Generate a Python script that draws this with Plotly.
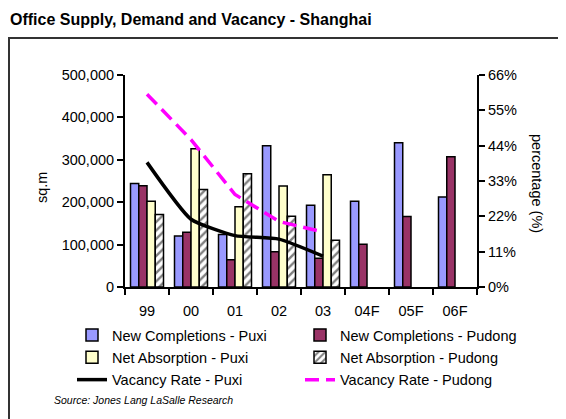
import plotly.graph_objects as go

years = ["99", "00", "01", "02", "03", "04F", "05F", "06F"]
nc_puxi = [244000, 120000, 124000, 333000, 193000, 202000, 340000, 212000]
nc_pudong = [239000, 129000, 64000, 83000, 68000, 101000, 166000, 307000]
na_puxi = [202000, 326000, 189000, 238000, 265000, None, None, None]
na_pudong = [171000, 230000, 267000, 167000, 110000, None, None, None]
vac_years = ["99", "00", "01", "02", "03"]
vac_puxi = [0.388, 0.211, 0.160, 0.149, 0.096]
vac_pudong = [0.600, 0.459, 0.288, 0.204, 0.171]

FONT = "Liberation Sans, Arial, sans-serif"

# page body has an 8px margin; work in window pixels and shift
OFF = 8
W, H = 566 - OFF, 419 - OFF
L, R, T, B = 125 - OFF, 477 - OFF, 75 - OFF, 287 - OFF
pw, ph = R - L, B - T
def px(x):
    return (x - OFF - L) / pw
def py(y):
    return (B - (y - OFF)) / ph

fig = go.Figure()
bar_line = dict(color="black", width=1.5)
fig.add_bar(x=years, y=nc_puxi, name="New Completions - Puxi",
            marker=dict(color="#9999FF", line=bar_line), legend="legend", legendgroup="a")
fig.add_bar(x=years, y=nc_pudong, name="New Completions - Pudong",
            marker=dict(color="#993366", line=bar_line), legend="legend2", legendgroup="d")
fig.add_bar(x=years, y=na_puxi, name="Net Absorption - Puxi",
            marker=dict(color="#FFFFCC", line=bar_line), legend="legend", legendgroup="b")
fig.add_bar(x=years, y=na_pudong, name="Net Absorption - Pudong",
            marker=dict(color="white", line=bar_line,
                        pattern=dict(shape="/", fgcolor="black", bgcolor="white",
                                     size=6, solidity=0.4)),
            legend="legend2", legendgroup="e")
fig.add_scatter(x=vac_years, y=vac_puxi, name="Vacancy Rate - Puxi", yaxis="y2",
                mode="lines", line=dict(color="black", width=3.5, shape="spline", smoothing=0.5),
                legend="legend", legendgroup="c")
fig.add_scatter(x=vac_years, y=vac_pudong, name="Vacancy Rate - Pudong", yaxis="y2",
                mode="lines", line=dict(color="#FF00FF", width=3.5, dash="14px,7px"),
                legend="legend2", legendgroup="f")

legend_common = dict(font=dict(family=FONT, size=14.5, color="black"),
                     bgcolor="rgba(0,0,0,0)", xanchor="left", yanchor="top",
                     tracegroupgap=0.5, orientation="v")

fig.update_layout(
    width=W, height=H,
    margin=dict(l=L, r=W - R, t=T, b=H - B, autoexpand=False),
    paper_bgcolor="white", plot_bgcolor="white",
    barmode="group", bargap=0.25, bargroupgap=0,
    font=dict(family=FONT, size=14.5, color="black"),
    title=dict(text="Office Supply, Demand and Vacancy - Shanghai",
               font=dict(family=FONT, size=16, color="black", weight="bold"),
               xref="container", yref="container", x=2 / W, y=1 - (19 - OFF) / H,
               xanchor="left", yanchor="middle", pad=dict(l=0, r=0, t=0, b=0)),
    xaxis=dict(type="category", showline=True, linecolor="black", linewidth=2,
               ticks="outside", tickson="boundaries", ticklen=6, tickcolor="black",
               tickwidth=2, showgrid=False, tickfont=dict(size=14.5), ticklabelstandoff=10),
    yaxis=dict(range=[0, 500000], dtick=100000, tickformat=",", showline=True,
               linecolor="black", linewidth=2, ticks="outside", ticklen=6,
               tickcolor="black", tickwidth=2, showgrid=False, zeroline=False,
               tickfont=dict(size=14.5)),
    yaxis2=dict(range=[0, 0.66], dtick=0.11, tickformat=".0%", overlaying="y",
                side="right", showline=True, linecolor="black", linewidth=2,
                ticks="outside", ticklen=6, tickcolor="black", tickwidth=2,
                showgrid=False, zeroline=False, tickfont=dict(size=14.5)),
    legend=dict(x=px(72), y=py(319), **legend_common),
    legend2=dict(x=px(300), y=py(319), **legend_common),
    showlegend=True,
    annotations=[
        dict(text="sq.m", x=px(42), y=py(188), xref="paper", yref="paper",
             xanchor="center", yanchor="middle",
             textangle=-90, showarrow=False, font=dict(size=14.5)),
        dict(text="percentage (%)", x=px(537), y=py(183), xref="paper", yref="paper",
             xanchor="center", yanchor="middle",
             textangle=90, showarrow=False, font=dict(size=14.5)),
        dict(text="Source: Jones Lang LaSalle Research", x=px(52), y=py(400),
             xref="paper", yref="paper", xanchor="left", yanchor="middle",
             showarrow=False, font=dict(size=10.5, style="italic")),
    ],
    shapes=[
        dict(type="rect", xref="paper", yref="paper", x0=px(9), x1=px(700),
             y0=py(600), y1=py(38), line=dict(color="#333333", width=2),
             fillcolor="rgba(0,0,0,0)", layer="below"),
    ],
)

fig.write_html("out.html")
